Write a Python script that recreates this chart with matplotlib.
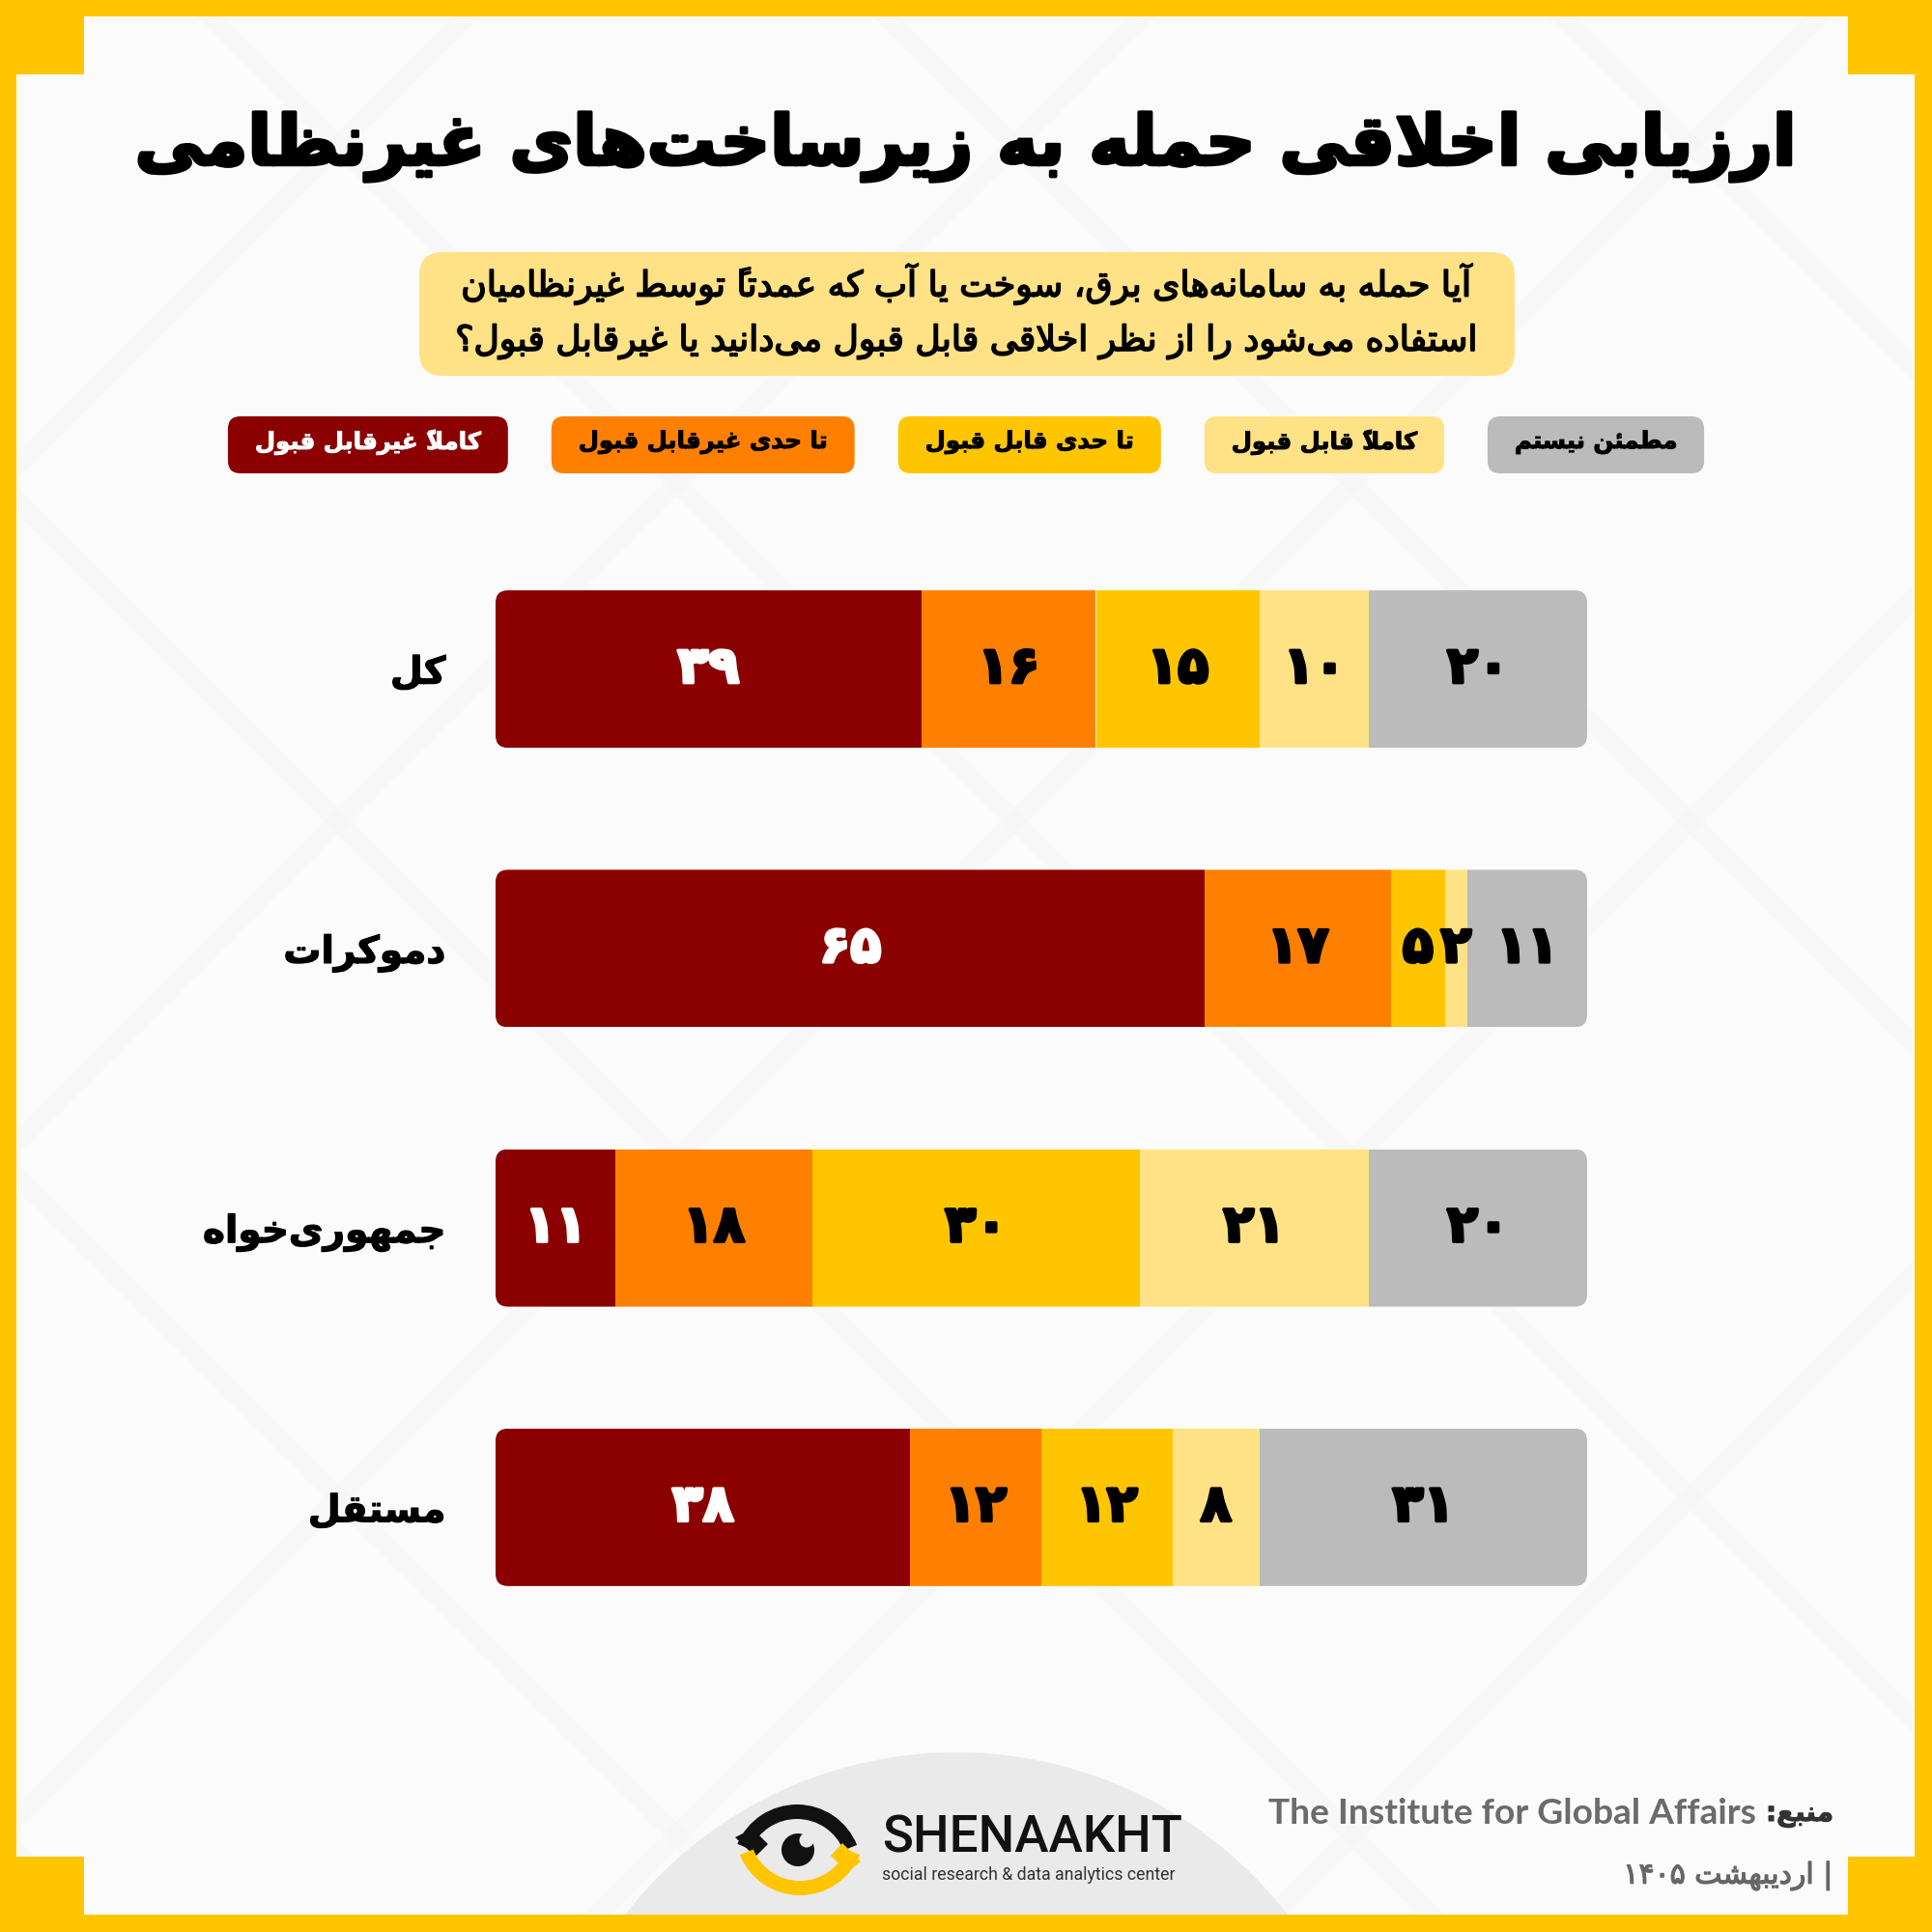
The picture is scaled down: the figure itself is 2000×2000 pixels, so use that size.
import matplotlib
matplotlib.use("Agg")
import matplotlib.pyplot as plt
import matplotlib.patheffects as pe
from matplotlib.patches import FancyBboxPatch, Polygon, Circle, Wedge

# ---------------- DATA ----------------
title_text = "ارزیابی اخلاقی حمله به زیرساخت‌های غیرنظامی"
question_lines = ["آیا حمله به سامانه‌های برق، سوخت یا آب که عمدتاً توسط غیرنظامیان",
                  "استفاده می‌شود را از نظر اخلاقی قابل قبول می‌دانید یا غیرقابل قبول؟"]
categories = ["کل", "دموکرات", "جمهوری‌خواه", "مستقل"]
responses = ["کاملاً غیرقابل قبول", "تا حدی غیرقابل قبول", "تا حدی قابل قبول",
             "کاملاً قابل قبول", "مطمئن نیستم"]
completely_unacceptable = [39, 65, 11, 38]
somewhat_unacceptable = [16, 17, 18, 12]
somewhat_acceptable = [15, 5, 30, 12]
completely_acceptable = [10, 2, 21, 8]
not_sure = [20, 11, 20, 31]
series = [completely_unacceptable, somewhat_unacceptable, somewhat_acceptable,
          completely_acceptable, not_sure]
colors = ["#8B0000", "#FF8000", "#FFC600", "#FFE285", "#BBBBBB"]
label_colors = ["white", "black", "black", "black", "black"]
source_label = "منبع:"
source_name = "The Institute for Global Affairs"
date_text = "| اردیبهشت ۱۴۰۵"
brand = "SHENAAKHT"
brand_sub = "social research & data analytics center"

# ---------------- Arabic shaping / bidi ----------------
FORMS = {
    '\u0622': ('\uFE81', '\uFE82', None, None),
    '\u0623': ('\uFE83', '\uFE84', None, None),
    '\u0626': ('\uFE89', '\uFE8A', '\uFE8B', '\uFE8C'),
    '\u0627': ('\uFE8D', '\uFE8E', None, None),
    '\u0628': ('\uFE8F', '\uFE90', '\uFE91', '\uFE92'),
    '\u0629': ('\uFE93', '\uFE94', None, None),
    '\u062A': ('\uFE95', '\uFE96', '\uFE97', '\uFE98'),
    '\u062B': ('\uFE99', '\uFE9A', '\uFE9B', '\uFE9C'),
    '\u062C': ('\uFE9D', '\uFE9E', '\uFE9F', '\uFEA0'),
    '\u062D': ('\uFEA1', '\uFEA2', '\uFEA3', '\uFEA4'),
    '\u062E': ('\uFEA5', '\uFEA6', '\uFEA7', '\uFEA8'),
    '\u062F': ('\uFEA9', '\uFEAA', None, None),
    '\u0630': ('\uFEAB', '\uFEAC', None, None),
    '\u0631': ('\uFEAD', '\uFEAE', None, None),
    '\u0632': ('\uFEAF', '\uFEB0', None, None),
    '\u0633': ('\uFEB1', '\uFEB2', '\uFEB3', '\uFEB4'),
    '\u0634': ('\uFEB5', '\uFEB6', '\uFEB7', '\uFEB8'),
    '\u0635': ('\uFEB9', '\uFEBA', '\uFEBB', '\uFEBC'),
    '\u0636': ('\uFEBD', '\uFEBE', '\uFEBF', '\uFEC0'),
    '\u0637': ('\uFEC1', '\uFEC2', '\uFEC3', '\uFEC4'),
    '\u0638': ('\uFEC5', '\uFEC6', '\uFEC7', '\uFEC8'),
    '\u0639': ('\uFEC9', '\uFECA', '\uFECB', '\uFECC'),
    '\u063A': ('\uFECD', '\uFECE', '\uFECF', '\uFED0'),
    '\u0641': ('\uFED1', '\uFED2', '\uFED3', '\uFED4'),
    '\u0642': ('\uFED5', '\uFED6', '\uFED7', '\uFED8'),
    '\u0643': ('\uFED9', '\uFEDA', '\uFEDB', '\uFEDC'),
    '\u0644': ('\uFEDD', '\uFEDE', '\uFEDF', '\uFEE0'),
    '\u0645': ('\uFEE1', '\uFEE2', '\uFEE3', '\uFEE4'),
    '\u0646': ('\uFEE5', '\uFEE6', '\uFEE7', '\uFEE8'),
    '\u0647': ('\uFEE9', '\uFEEA', '\uFEEB', '\uFEEC'),
    '\u0648': ('\uFEED', '\uFEEE', None, None),
    '\u0649': ('\uFEEF', '\uFEF0', None, None),
    '\u064A': ('\uFEF1', '\uFEF2', '\uFEF3', '\uFEF4'),
    '\u067E': ('\uFB56', '\uFB57', '\uFB58', '\uFB59'),
    '\u0686': ('\uFB7A', '\uFB7B', '\uFB7C', '\uFB7D'),
    '\u0698': ('\uFB8A', '\uFB8B', None, None),
    '\u06A9': ('\uFB8E', '\uFB8F', '\uFB90', '\uFB91'),
    '\u06AF': ('\uFB92', '\uFB93', '\uFB94', '\uFB95'),
    '\u06CC': ('\uFBFC', '\uFBFD', '\uFBFE', '\uFBFF'),
    '\uE001': ('\uFEFB', '\uFEFC', None, None),
    '\uE002': ('\uFEF5', '\uFEF6', None, None),
}
MARKS = {chr(c) for c in range(0x064B, 0x0660)} | {'\u0670'}


def shape(text):
    s = text.replace('\u0644\u0627', '\uE001').replace('\u0644\u0622', '\uE002')
    n = len(s)
    out = []
    for i, ch in enumerate(s):
        if ch not in FORMS:
            out.append(ch)
            continue
        j = i - 1
        while j >= 0 and s[j] in MARKS:
            j -= 1
        k = i + 1
        while k < n and s[k] in MARKS:
            k += 1
        prev = s[j] if j >= 0 else None
        nxt = s[k] if k < n else None
        cp = prev in FORMS and FORMS[prev][2] is not None
        cn = FORMS[ch][2] is not None and nxt in FORMS
        f = FORMS[ch]
        if cp and cn:
            out.append(f[3])
        elif cp:
            out.append(f[1])
        elif cn:
            out.append(f[2])
        else:
            out.append(f[0])
    return ''.join(c for c in out if c != '\u200C')


def char_dir(ch):
    o = ord(ch)
    if 0x06F0 <= o <= 0x06F9 or 0x0660 <= o <= 0x0669 or (ch.isascii() and ch.isalnum()):
        return 'L'
    if 0x0600 <= o <= 0x06FF or 0xFB50 <= o <= 0xFEFF:
        return 'R'
    return 'N'


def visual(text):
    s = shape(text)
    n = len(s)
    dirs = [char_dir(c) for c in s]
    i = 0
    while i < n:
        if dirs[i] == 'N':
            j = i
            while j < n and dirs[j] == 'N':
                j += 1
            left = dirs[i - 1] if i > 0 else 'R'
            right = dirs[j] if j < n else 'R'
            d = 'L' if (left == 'L' and right == 'L') else 'R'
            for k in range(i, j):
                dirs[k] = d
            i = j
        else:
            i += 1
    runs = []
    for c, d in zip(s, dirs):
        if runs and runs[-1][0] == d:
            runs[-1][1].append(c)
        else:
            runs.append([d, [c]])
    parts = []
    for d, chars in reversed(runs):
        parts.append(''.join(chars) if d == 'L' else ''.join(reversed(chars)))
    return ''.join(parts)


def fa_num(v):
    return str(v).translate(str.maketrans('0123456789', '۰۱۲۳۴۵۶۷۸۹'))


AR = ['DejaVu Sans']


def heavy(lw, col):
    return [pe.withStroke(linewidth=lw, foreground=col)]


# ---------------- FIGURE ----------------
fig = plt.figure(figsize=(20, 20), dpi=100)
fig.patch.set_facecolor('#FFC600')
renderer = fig.canvas.get_renderer()


def text_width(s, size, **kw):
    t = fig.text(0, 0, s, fontsize=size, **kw)
    w = t.get_window_extent(renderer).width
    t.remove()
    return w


def fit_size(s, target, **kw):
    return 100.0 * target / text_width(s, 100, **kw)


bg = fig.add_axes([0, 0, 1, 1])
bg.set_xlim(0, 2000)
bg.set_ylim(2000, 0)
bg.axis('off')

white = Polygon([(87, 17), (1913, 17), (1913, 77), (1982, 77), (1982, 1922), (1913, 1922),
                 (1913, 1982), (87, 1982), (87, 1922), (17, 1922), (17, 77), (87, 77)],
                closed=True, facecolor='#FBFBFB', edgecolor='none', zorder=0)
bg.add_patch(white)

# very faint diagonal background lattice
for c in range(-1400, 4000, 700):
    for sgn in (1, -1):
        if sgn == 1:
            xs, ys = [c - 2000, c + 2000], [2500, -1500]
        else:
            xs, ys = [c - 2000, c + 2000], [-1500, 2500]
        ln, = bg.plot(xs, ys, color='#F3F3F3', lw=14, alpha=0.35, zorder=0.5,
                      solid_capstyle='butt')
        ln.set_clip_path(white)

# footer dome
dome = Circle((990, 2248), 434, facecolor='#EAEAEA', edgecolor='none', zorder=1)
bg.add_patch(dome)
dome.set_clip_path(white)

# title
vt = visual(title_text)
fs_title = fit_size(vt, 1720, family=AR, fontweight='bold')
bg.text(1000, 152, vt, ha='center', va='center', fontsize=fs_title,
        fontweight='bold', family=AR, color='black', zorder=3, path_effects=heavy(2.5, 'black'))

# question box
bg.add_patch(FancyBboxPatch((434, 261), 1134, 128, boxstyle='round,pad=0,rounding_size=24',
                            facecolor='#FFE285', edgecolor='none', zorder=2))
vq = [visual(l) for l in question_lines]
fs_q = min(fit_size(vq[0], 1083, family=AR), fit_size(vq[1], 1058, family=AR))
for k, line in enumerate(vq):
    bg.text(1000, 294 + k * 60, line, ha='center', va='center', fontsize=fs_q,
            family=AR, color='black', zorder=3, path_effects=heavy(1.2, 'black'))

# legend chips
vr = [visual(r) for r in responses]
fs_leg = fit_size(vr[0], 234, family=AR, fontweight='bold')
widths = [text_width(r, fs_leg, family=AR, fontweight='bold') for r in vr]
pad, gap = 28, 45
chip_w = [w + 2 * pad for w in widths]
x0 = 1000 - (sum(chip_w) + gap * (len(chip_w) - 1)) / 2
for r, w, col, tcol in zip(vr, chip_w, colors, label_colors):
    bg.add_patch(FancyBboxPatch((x0, 431), w, 59, boxstyle='round,pad=0,rounding_size=13',
                                facecolor=col, edgecolor='none', zorder=2))
    bg.text(x0 + w / 2, 458, r, ha='center', va='center', fontsize=fs_leg,
            fontweight='bold', family=AR, color=tcol, zorder=3, path_effects=heavy(0.7, tcol))
    x0 += w + gap

# ---------------- BARS ----------------
ax = fig.add_axes([513 / 2000, 1 - 1705 / 2000, 1130 / 2000, 1157 / 2000])
ax.set_xlim(0, 100)
ax.set_ylim(3.5, -0.5)
ax.patch.set_visible(False)
for sp in ax.spines.values():
    sp.set_visible(False)
ax.set_xticks([])
bar_h = 0.5635
rows = range(len(categories))
fs_num = fit_size(fa_num(39), 64, family=AR, fontweight='bold')

clips = []
for i in rows:
    cp = FancyBboxPatch((0, i - bar_h / 2), 100, bar_h,
                        boxstyle='round,pad=0,rounding_size=1.15', mutation_aspect=0.039,
                        facecolor='none', edgecolor='none')
    ax.add_patch(cp)
    clips.append(cp)

lefts = [0.0] * len(categories)
for j, vals in enumerate(series):
    bars = ax.barh(list(rows), vals, left=lefts, height=bar_h, color=colors[j],
                   edgecolor='none', zorder=2)
    for i, b in enumerate(bars):
        b.set_clip_path(clips[i])
        right = min(lefts[i] + vals[i], 100)
        ax.text((lefts[i] + right) / 2, i, fa_num(vals[i]), ha='center', va='center',
                fontsize=fs_num, fontweight='bold', family=AR, color=label_colors[j], zorder=4,
                path_effects=heavy(2.5, label_colors[j]))
    lefts = [l + v for l, v in zip(lefts, vals)]

vc = [visual(c) for c in categories]
fs_cat = fit_size(vc[1], 168, family=AR, fontweight='bold')
ax.set_yticks(list(rows))
ax.set_yticklabels(vc, fontsize=fs_cat, fontweight='bold', family=AR, color='black')
for tl in ax.get_yticklabels():
    tl.set_path_effects(heavy(0.9, 'black'))
ax.tick_params(axis='y', length=0, pad=37)

# ---------------- FOOTER ----------------
# eye logo
bg.add_patch(Wedge((825, 1935), 67, 203, 338, width=15, facecolor='#111111',
                   edgecolor='none', zorder=3))
bg.add_patch(Polygon([(761, 1902), (782, 1922), (795, 1909), (779, 1893)], closed=True,
                     facecolor='#111111', edgecolor='none', zorder=3))
bg.add_patch(Wedge((828, 1895), 67, 22, 158, width=15, facecolor='#FFC600',
                   edgecolor='none', zorder=3))
bg.add_patch(Polygon([(891, 1927), (872, 1908), (860, 1921), (877, 1938)], closed=True,
                     facecolor='#FFC600', edgecolor='none', zorder=3))
bg.add_patch(Circle((826, 1915), 17, facecolor='#111111', edgecolor='none', zorder=4))
bg.add_patch(Circle((835, 1905), 7.5, facecolor='#EAEAEA', edgecolor='none', zorder=5))

fs_brand = fit_size(brand, 311, family='Roboto', fontweight='medium')
bg.text(913, 1903, brand, ha='left', va='center', fontsize=fs_brand, family='Roboto',
        fontweight='medium', color='#111111', zorder=3)
fs_sub = fit_size(brand_sub, 303, family='Roboto')
bg.text(913, 1941, brand_sub, ha='left', va='center', fontsize=fs_sub, family='Roboto',
        color='#333333', zorder=3)

vs = visual(source_label)
fs_m = fit_size(vs, 70, family=AR, fontweight='bold')
w_m = text_width(vs, fs_m, family=AR, fontweight='bold')
bg.text(1898, 1878, vs, ha='right', va='center', fontsize=fs_m,
        family=AR, fontweight='bold', color='#333333', zorder=3, path_effects=heavy(0.8, '#333333'))
fs_src = fit_size(source_name, 505, family='Lato', fontweight='bold')
bg.text(1898 - w_m - 10, 1878, source_name, ha='right', va='center', fontsize=fs_src,
        family='Lato', fontweight='bold', color='#6B6B6B', zorder=3)
vd = visual(date_text)
fs_date = fit_size(vd, 217, family=AR)
bg.text(1898, 1942, vd, ha='right', va='center', fontsize=fs_date,
        family=AR, color='#666666', zorder=3, path_effects=heavy(0.9, '#666666'))

fig.savefig('out.png', dpi=100, facecolor=fig.get_facecolor())
